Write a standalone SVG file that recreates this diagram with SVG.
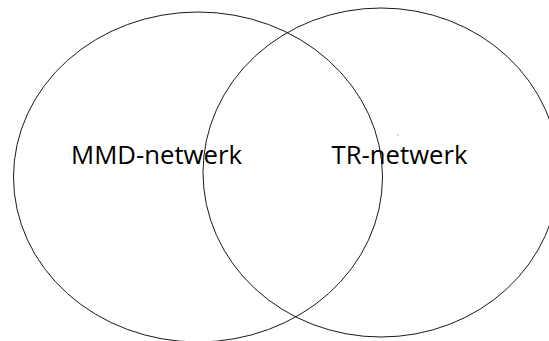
<svg xmlns="http://www.w3.org/2000/svg" width="549" height="341" viewBox="0 0 549 341">
  <style>
    .set { fill: none; stroke: #1a1a1a; stroke-width: 1; }
    .label { font-family: "Open Sans", "DejaVu Sans", sans-serif; font-size: 25.5px; fill: #000; }
  </style>
  <rect width="549" height="341" fill="#fff"/>
  <g id="mmd-netwerk">
    <ellipse class="set" cx="198" cy="177" rx="184.5" ry="165"/>
    <text class="label" x="71" y="164" textLength="171" lengthAdjust="spacingAndGlyphs">MMD-netwerk</text>
  </g>
  <g id="tr-netwerk">
    <ellipse class="set" cx="381" cy="172.5" rx="178" ry="164.5"/>
    <text class="label" x="331.5" y="164" textLength="136" lengthAdjust="spacingAndGlyphs">TR-netwerk</text>
  </g>
  <g id="connectors"/>
  <rect x="397.5" y="134.5" width="1" height="1" fill="#555"/>
</svg>
